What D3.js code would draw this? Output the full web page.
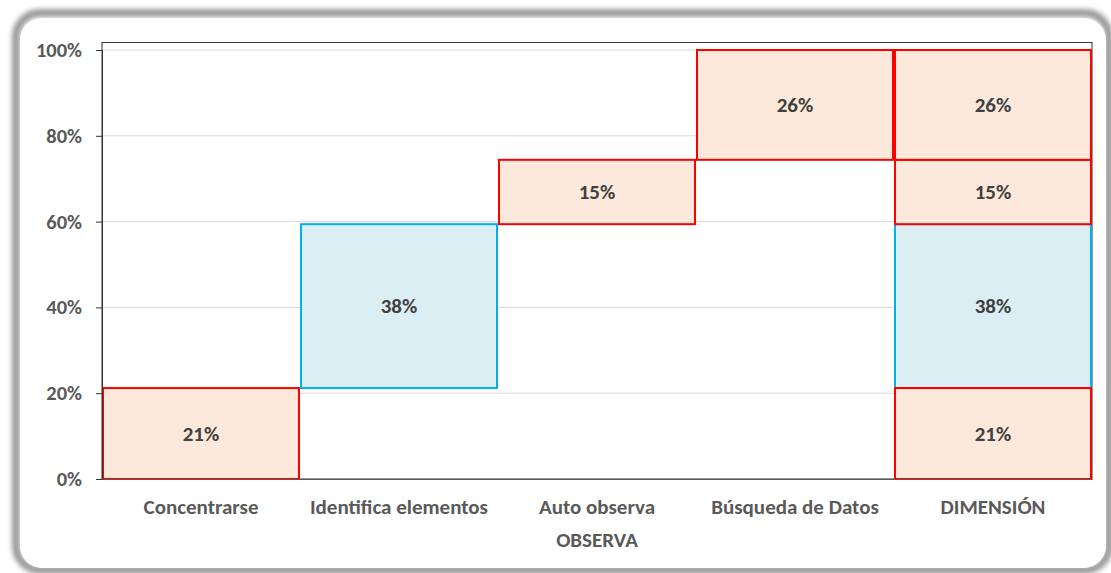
<!DOCTYPE html>
<html>
<head>
<meta charset="utf-8">
<script src="https://cdn.jsdelivr.net/npm/d3@7"></script>
<style>
  body { margin: 0; background: #fff; }
  svg text { font-family: Carlito, Lato, "Open Sans", sans-serif; font-weight: bold; fill: #595959; }
</style>
</head>
<body>
<div id="root"></div>
<script>
// data
var categories = ["Concentrarse", "Identifica elementos", "Auto observa", "Búsqueda de Datos", "DIMENSIÓN"];
var stepValues = [21.2, 38.2, 15.0, 25.6];          // % per step
var stepKind = ["peach", "blue", "peach", "peach"];  // fill group per step
var yTicks = [0, 20, 40, 60, 80, 100];
var axisTitle = "OBSERVA";

var W = 1111, H = 573;
var m = {left: 102, right: 1092, top: 50, bottom: 479};

var svg = d3.select("#root").append("svg")
  .attr("width", W).attr("height", H);

// card with blurred grey rim
var defs = svg.append("defs");
defs.append("filter").attr("id", "blur")
  .attr("x", "-5%").attr("y", "-5%").attr("width", "110%").attr("height", "110%")
  .append("feGaussianBlur").attr("stdDeviation", 2.5);
svg.append("rect")
  .attr("x", 16).attr("y", 13).attr("width", 1093).attr("height", 557)
  .attr("rx", 24)
  .attr("fill", "none").attr("stroke", "#999").attr("stroke-width", 8)
  .attr("filter", "url(#blur)");
svg.append("rect")
  .attr("x", 20).attr("y", 18).attr("width", 1086).attr("height", 550)
  .attr("rx", 22).attr("fill", "#fff");

var x = d3.scaleBand().domain(categories).range([m.left, m.right]).padding(0);
var y = d3.scaleLinear().domain([0, 100]).range([m.bottom, m.top]);

// gridlines
svg.append("g").selectAll("line")
  .data(yTicks.slice(1))
  .enter().append("line")
  .attr("x1", m.left).attr("x2", m.right)
  .attr("y1", function(d) { return y(d); }).attr("y2", function(d) { return y(d); })
  .attr("stroke", "#d9d9d9").attr("stroke-width", 1);

// plot area frame
svg.append("rect")
  .attr("x", m.left).attr("y", 42.5)
  .attr("width", m.right - m.left).attr("height", m.bottom - 42.5)
  .attr("fill", "none").attr("stroke", "#333").attr("stroke-width", 1);

// waterfall steps, then the same steps stacked in the total column
var segs = [];
var base = 0;
stepValues.forEach(function(v, i) {
  segs.push({cat: categories[i], y0: base, y1: base + v, v: v, kind: stepKind[i]});
  base += v;
});
var acc = 0;
stepValues.forEach(function(v, i) {
  segs.push({cat: categories[categories.length - 1], y0: acc, y1: acc + v, v: v, kind: stepKind[i]});
  acc += v;
});

var colors = {
  peach: {fill: "#fce9db", stroke: "#ff0000"},
  blue: {fill: "#dbeef3", stroke: "#00b0f0"}
};

var g = svg.append("g").attr("class", "bars");
// blue first so red outlines sit on top
segs.sort(function(a, b) { return (a.kind == "blue" ? 0 : 1) - (b.kind == "blue" ? 0 : 1); });
g.selectAll("rect")
  .data(segs)
  .enter().append("rect")
  .attr("x", function(d) { return x(d.cat) + 1; })
  .attr("y", function(d) { return y(d.y1); })
  .attr("width", x.bandwidth() - 2)
  .attr("height", function(d) { return y(d.y0) - y(d.y1); })
  .attr("fill", function(d) { return colors[d.kind].fill; })
  .attr("stroke", function(d) { return colors[d.kind].stroke; })
  .attr("stroke-width", 2);

g.selectAll("text")
  .data(segs)
  .enter().append("text")
  .attr("x", function(d) { return x(d.cat) + x.bandwidth() / 2; })
  .attr("y", function(d) { return y((d.y0 + d.y1) / 2); })
  .attr("dy", "0.35em")
  .attr("text-anchor", "middle")
  .style("font-size", "21px")
  .style("fill", "#404040")
  .text(function(d) { return Math.round(d.v) + "%"; });

// y axis
var yAxis = svg.append("g")
  .attr("transform", "translate(" + m.left + ",0)")
  .call(d3.axisLeft(y).tickValues(yTicks).tickSize(6).tickPadding(14)
    .tickFormat(function(d) { return d + "%"; }));
yAxis.select(".domain").attr("stroke", "#333");
yAxis.selectAll(".tick line").attr("stroke", "#333");
yAxis.selectAll("text").style("font-size", "20.5px").style("font-family", null).attr("fill", null);

// x axis
var xAxis = svg.append("g")
  .attr("transform", "translate(0," + m.bottom + ")")
  .call(d3.axisBottom(x).tickSize(0).tickPadding(20));
xAxis.select(".domain").attr("stroke", "#595959");
xAxis.selectAll("text").style("font-size", "21px").style("font-family", null).attr("fill", null);

svg.append("text")
  .attr("x", (m.left + m.right) / 2).attr("y", 547)
  .attr("text-anchor", "middle")
  .style("font-size", "21px")
  .text(axisTitle);
</script>
</body>
</html>
